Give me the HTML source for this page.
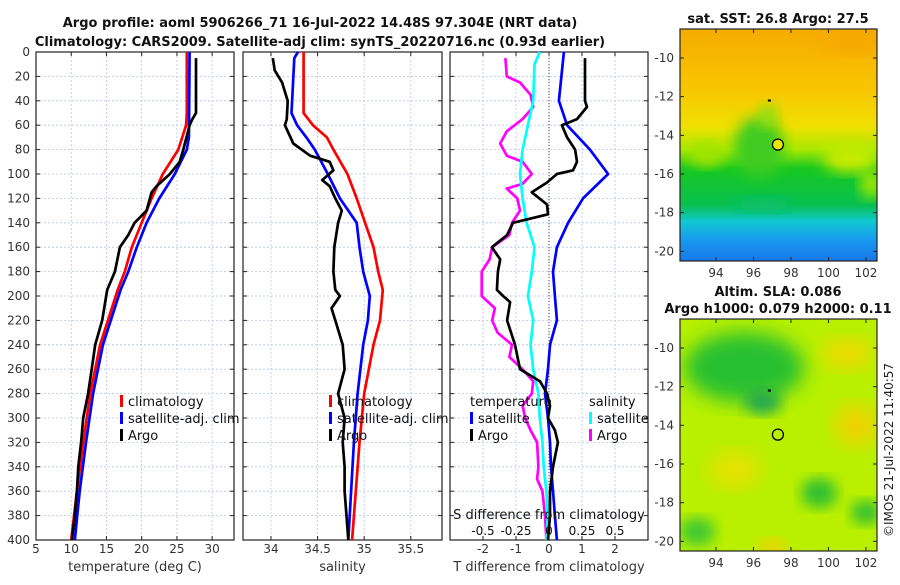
<!DOCTYPE html>
<html><head><meta charset="utf-8">
<style>
body{margin:0;background:#fff;width:900px;height:580px;overflow:hidden;font-family:"Liberation Sans","DejaVu Sans",sans-serif}
svg text{font-family:"DejaVu Sans","Liberation Sans",sans-serif}
</style></head>
<body>
<svg id="chart" width="900" height="580" xmlns="http://www.w3.org/2000/svg">
<defs>
<filter id="blur1" x="-20%" y="-20%" width="140%" height="140%"><feGaussianBlur stdDeviation="7"/></filter>
<filter id="blur2" x="-20%" y="-20%" width="140%" height="140%"><feGaussianBlur stdDeviation="10"/></filter>
<linearGradient id="sstgrad" x1="0" y1="0" x2="0" y2="1">
<stop offset="0" stop-color="#f6ac00"/><stop offset="0.25" stop-color="#f8c400"/><stop offset="0.42" stop-color="#f0e000"/>
<stop offset="0.52" stop-color="#a8e800"/><stop offset="0.6" stop-color="#18c820"/><stop offset="0.76" stop-color="#08c050"/>
<stop offset="0.83" stop-color="#10c8d0"/><stop offset="0.91" stop-color="#1898f0"/><stop offset="1" stop-color="#1878e8"/>
</linearGradient>
<clipPath id="clipA"><rect x="680" y="29" width="197" height="232"/></clipPath>
<clipPath id="clipB"><rect x="680" y="319" width="197" height="232"/></clipPath>
</defs>
<g font-weight="bold" font-size="13" text-anchor="middle" fill="#111">
<text x="320" y="27">Argo profile: aoml 5906266_71 16-Jul-2022 14.48S 97.304E (NRT data)</text>
<text x="320" y="46">Climatology: CARS2009. Satellite-adj clim: synTS_20220716.nc (0.93d earlier)</text>
</g>
<g id="panels"></g>
<g id="maps"></g>
<text transform="translate(893,450) rotate(-90)" font-size="12" text-anchor="middle" fill="#222">©IMOS 21-Jul-2022 11:40:57</text>
</svg>
<script>
// ---- data ----
const depthTicks=[0,20,40,60,80,100,120,140,160,180,200,220,240,260,280,300,320,340,360,380,400];
const tempTicks=[5,10,15,20,25,30];
const salTicks=[34,34.5,35,35.5];
const tdiffTicks=[-2,-1,0,1,2];
const sdiffTicks=[-0.5,-0.25,0,0.25,0.5];
const sdiffTickLabels=["-0.5","-0.25","0","0.25","0.5"];
const latTicks=[-10,-12,-14,-16,-18,-20];
const lonTicks=[94,96,98,100,102];

const tClimDepth=[0,50,60,80,100,120,140,160,180,195,240,280,320,360,400];
const tClim=[26.4,26.4,26.3,25.2,23.0,21.4,20.0,18.6,17.6,16.6,14.1,12.7,11.7,10.8,10.0];
const tSatDepth=[0,70,80,100,120,140,160,180,195,240,280,320,360,400];
const tSat=[26.8,26.7,26.4,24.7,22.5,20.7,19.3,18.1,17.0,14.5,13.1,12.1,11.2,10.5];
const tArgoDepth=[5,50,55,60,80,90,100,110,115,130,140,150,160,180,195,220,240,260,280,300,320,340,360,380,400];
const tArgo=[27.7,27.7,27.2,26.8,25.9,25.4,24.0,22.1,21.4,20.7,19.0,18.1,16.9,16.2,15.1,14.4,13.4,12.9,12.4,11.7,11.4,11.0,10.8,10.5,10.1];

const sClimDepth=[0,50,60,70,80,100,120,140,160,180,195,220,240,280,320,360,400];
const sClim=[34.35,34.35,34.45,34.6,34.67,34.82,34.92,35.01,35.1,35.15,35.2,35.17,35.1,35.0,34.95,34.91,34.87];
const sSatDepth=[0,5,50,60,70,80,100,120,140,160,180,200,220,240,280,320,360,400];
const sSat=[34.29,34.25,34.22,34.28,34.38,34.47,34.61,34.74,34.92,34.95,34.99,35.06,35.04,34.99,34.93,34.89,34.86,34.83];
const sArgoDepth=[5,15,25,40,55,60,75,85,90,97,105,110,120,130,140,160,180,195,200,210,220,240,260,280,300,320,340,360,380,400];
const sArgo=[34.02,34.04,34.12,34.18,34.17,34.15,34.24,34.42,34.63,34.67,34.55,34.63,34.69,34.76,34.72,34.68,34.67,34.69,34.74,34.65,34.69,34.77,34.79,34.72,34.79,34.77,34.79,34.79,34.81,34.83];

const dTSatDepth=[0,40,60,80,100,120,140,160,180,200,220,240,260,280,300,320,340,360,380,400];
const dTSat=[0.45,0.3,0.55,1.24,1.79,1.03,0.58,0.24,0.12,0.18,0.24,0.03,-0.03,-0.12,-0.03,0.03,0.06,0.12,0.18,0.24];
const dTArgoDepth=[5,40,45,55,60,70,80,90,97,100,107,115,125,133,140,150,160,170,180,195,200,205,220,240,260,270,280,290,300,310,320,340,360,380,400];
const dTArgo=[1.09,1.09,1.15,0.85,0.39,0.55,0.79,0.85,0.73,0.24,-0.06,-0.52,-0.06,-0.03,-1.09,-1.27,-1.73,-1.48,-1.55,-1.58,-1.39,-1.18,-1.27,-1.03,-0.88,-0.27,-0.06,0.03,-0.03,0.18,0.27,0.12,0.03,0.03,-0.03];
const dSSatDepth=[0,10,40,60,80,100,120,140,160,180,200,220,240,260,280,300,320,340,360,380,400];
const dSSat=[-0.07,-0.11,-0.12,-0.16,-0.2,-0.22,-0.2,-0.17,-0.11,-0.13,-0.16,-0.12,-0.14,-0.12,-0.08,-0.07,-0.05,-0.04,-0.02,-0.01,-0.02];
const dSArgoDepth=[5,20,25,35,45,55,65,75,85,90,100,108,112,120,130,140,150,160,170,180,195,200,210,220,230,240,250,260,270,280,290,300,310,320,340,350,360,380,400];
const dSArgo=[-0.33,-0.32,-0.22,-0.14,-0.12,-0.2,-0.32,-0.37,-0.32,-0.2,-0.13,-0.2,-0.32,-0.24,-0.22,-0.28,-0.3,-0.43,-0.45,-0.51,-0.51,-0.51,-0.41,-0.43,-0.39,-0.28,-0.3,-0.2,-0.12,-0.13,-0.2,-0.18,-0.14,-0.09,-0.08,-0.09,-0.05,-0.03,-0.02];

const argoLon=97.304, argoLat=-14.48;

// ---- drawing ----
const NS="http://www.w3.org/2000/svg";
function mk(tag,attrs,parent,txt){const e=document.createElementNS(NS,tag);for(const k in attrs)e.setAttribute(k,attrs[k]);if(txt!==undefined)e.textContent=txt;parent.appendChild(e);return e;}
const Y0=52,Y1=540;
const yScale=d=>Y0+(d/400)*(Y1-Y0);
const panels=document.getElementById('panels');

function panel(name,x0,x1,vmin,vmax,ticks,labels,xlabel){
  const g=mk('g',{},panels);
  
  
  const xs=v=>x0+(v-vmin)/(vmax-vmin)*(x1-x0);
  const grid=mk('g',{},g);
  
  
  depthTicks.forEach(d=>{mk('line',{x1:x0,x2:x1,y1:yScale(d),y2:yScale(d),stroke:'#b8c4e8','stroke-width':0.8,'stroke-dasharray':'2,2'},grid);
    mk('line',{x1:x0,x2:x0+4,y1:yScale(d),y2:yScale(d),stroke:'#222'},grid);mk('line',{x1:x1-4,x2:x1,y1:yScale(d),y2:yScale(d),stroke:'#222'},grid);});
  ticks.forEach((t,i)=>{const x=xs(t);mk('line',{x1:x,x2:x,y1:Y0,y2:Y1,stroke:'#b8c4e8','stroke-width':0.8,'stroke-dasharray':'2,2'},grid);
    mk('line',{x1:x,x2:x,y1:Y1,y2:Y1-4,stroke:'#222'},grid);mk('line',{x1:x,x2:x,y1:Y0,y2:Y0+4,stroke:'#222'},grid);
    const tl=mk('text',{x:x,y:553,'font-size':12,'text-anchor':'middle',fill:'#333'},g,labels[i]);
    
    });
  const xl=mk('text',{x:(x0+x1)/2,y:571,'font-size':13,'text-anchor':'middle',fill:'#333'},g,xlabel);
  
  
  mk('rect',{x:x0,y:Y0,width:x1-x0,height:Y1-Y0,fill:'none',stroke:'#222','stroke-width':1.2},g);
  return {g,xs};
}
function line(p,name,vals,depths,color,scale){
  const pts=vals.map((v,i)=>p.xs(v*(scale||1)).toFixed(1)+','+yScale(depths[i]).toFixed(1)).join(' ');
  const l=mk('polyline',{points:pts,fill:'none',stroke:color,'stroke-width':2.7,'stroke-linejoin':'round'},p.g);
  
  
}
function legend(p,items,x,y,name){
  const g=mk('g',{},p.g);
  
  
  items.forEach((it,i)=>{const yy=y+i*17;
    if(it[1])mk('rect',{x:x,y:yy-10,width:3,height:12,fill:it[1]},g);
    mk('text',{x:x+(it[1]?8:0),y:yy+1,'font-size':13,fill:'#111'},g,it[0]);});
}

// panel 1
const p1=panel('temperature-panel',36,234,5,33.1,tempTicks,tempTicks.map(String),'temperature (deg C)');
depthTicks.forEach(d=>{const t=mk('text',{x:30,y:yScale(d)+4,'font-size':12,'text-anchor':'end',fill:'#333'},p1.g,String(d));
  
  });
line(p1,'temp-climatology-line',tClim,tClimDepth,'#ff0000');
line(p1,'temp-satellite-line',tSat,tSatDepth,'#0000ff');
line(p1,'temp-argo-line',tArgo,tArgoDepth,'#000000');
legend(p1,[['climatology','#ff0000'],['satellite-adj. clim','#0000ff'],['Argo','#000']],120,405,'temperature-legend');

// panel 2
const p2=panel('salinity-panel',243,442,33.7,35.835,salTicks,salTicks.map(String),'salinity');
line(p2,'sal-climatology-line',sClim,sClimDepth,'#ff0000');
line(p2,'sal-satellite-line',sSat,sSatDepth,'#0000ff');
line(p2,'sal-argo-line',sArgo,sArgoDepth,'#000000');
legend(p2,[['climatology','#ff0000'],['satellite-adj. clim','#0000ff'],['Argo','#000']],329,405,'salinity-legend');

// panel 3
const p3=panel('difference-panel',450,648,-3,3,tdiffTicks,tdiffTicks.map(String),'T difference from climatology');
mk('line',{x1:p3.xs(0),x2:p3.xs(0),y1:Y0,y2:Y1,stroke:'#444','stroke-width':1,'stroke-dasharray':'1,2'},p3.g);
line(p3,'sdiff-argo-line',dSArgo,dSArgoDepth,'#ff00ff',4);
line(p3,'sdiff-satellite-line',dSSat,dSSatDepth,'#00ffff',4);
line(p3,'tdiff-satellite-line',dTSat,dTSatDepth,'#0000ff');
line(p3,'tdiff-argo-line',dTArgo,dTArgoDepth,'#000000');
legend(p3,[['temperature',null],['satellite','#0000ff'],['Argo','#000']],470,405,'tdiff-legend');
legend(p3,[['salinity',null],['satellite','#00ffff'],['Argo','#ff00ff']],589,405,'sdiff-legend');
const st=mk('text',{x:549,y:519,'font-size':13,'text-anchor':'middle',fill:'#111'},p3.g,'S difference from climatology');


sdiffTicks.forEach((s,i)=>{const t=mk('text',{x:p3.xs(s*4),y:535,'font-size':12,'text-anchor':'middle',fill:'#111'},p3.g,sdiffTickLabels[i]);
  
  });

// maps
const maps=document.getElementById('maps');
function map(name,y0,title1,title2,kind,clip){
  const x0=680,x1=877,y1=y0+232;
  const lx=v=>x0+(v-92.08)/(102.59-92.08)*(x1-x0);
  const ly=v=>y0+(-8.5-v)/12*(y1-y0);
  const g=mk('g',{},maps);
  
  
  const body=mk('g',{'clip-path':'url(#'+clip+')'},g);
  if(kind==='sst'){
    mk('rect',{x:x0,y:y0,width:197,height:232,fill:'url(#sstgrad)'},body);
    mk('ellipse',{cx:lx(101.5),cy:ly(-9),rx:40,ry:14,fill:'#f6a800',filter:'url(#blur2)'},body);
    mk('ellipse',{cx:lx(96.3),cy:ly(-14.6),rx:25,ry:30,fill:'#40cc20',filter:'url(#blur1)'},body);
    mk('ellipse',{cx:lx(96.8),cy:ly(-13),rx:10,ry:12,fill:'#90e010',filter:'url(#blur1)'},body);
    mk('ellipse',{cx:lx(93.5),cy:ly(-15),rx:18,ry:12,fill:'#a0e400',filter:'url(#blur1)'},body);
    mk('ellipse',{cx:lx(101.2),cy:ly(-15.2),rx:28,ry:14,fill:'#c8ec00',filter:'url(#blur1)'},body);
    mk('ellipse',{cx:lx(102.3),cy:ly(-16.5),rx:12,ry:14,fill:'#a0e800',filter:'url(#blur1)'},body);
    mk('ellipse',{cx:lx(96.5),cy:ly(-17.6),rx:30,ry:7,fill:'#10c070',filter:'url(#blur1)'},body);
  } else {
    mk('rect',{x:x0,y:y0,width:197,height:232,fill:'#b8f000'},body);
    mk('ellipse',{cx:lx(95.5),cy:ly(-11),rx:60,ry:35,fill:'#28c030',filter:'url(#blur2)'},body);
    mk('ellipse',{cx:lx(96.5),cy:ly(-12.8),rx:18,ry:12,fill:'#20a850',filter:'url(#blur1)'},body);
    mk('ellipse',{cx:lx(101),cy:ly(-10.3),rx:25,ry:15,fill:'#f0d800',filter:'url(#blur2)'},body);
    mk('ellipse',{cx:lx(101.5),cy:ly(-14),rx:22,ry:20,fill:'#f0d000',filter:'url(#blur2)'},body);
    mk('ellipse',{cx:lx(95),cy:ly(-16.3),rx:25,ry:18,fill:'#e8e000',filter:'url(#blur2)'},body);
    mk('ellipse',{cx:lx(99.5),cy:ly(-17.5),rx:18,ry:15,fill:'#30c030',filter:'url(#blur1)'},body);
    mk('ellipse',{cx:lx(102),cy:ly(-18.5),rx:15,ry:12,fill:'#30c030',filter:'url(#blur1)'},body);
    mk('ellipse',{cx:lx(93),cy:ly(-19.5),rx:18,ry:14,fill:'#40c830',filter:'url(#blur1)'},body);
    mk('ellipse',{cx:lx(97),cy:ly(-20.3),rx:15,ry:8,fill:'#f0d000',filter:'url(#blur1)'},body);
  }
  mk('rect',{x:lx(96.85)-1.5,y:ly(-12.2)-1,width:3,height:2,fill:'#000'},body);
  const c=mk('circle',{cx:lx(argoLon),cy:ly(argoLat),r:5.5,fill:kind==='sst'?'#e8e800':'none',stroke:'#000','stroke-width':1.3},g);
  
  
  mk('rect',{x:x0,y:y0,width:197,height:232,fill:'none',stroke:'#222','stroke-width':1.2},g);
  latTicks.forEach(t=>{const y=ly(t);mk('line',{x1:x0,x2:x0+4,y1:y,y2:y,stroke:'#222'},g);mk('line',{x1:x1-4,x2:x1,y1:y,y2:y,stroke:'#222'},g);
    const tl=mk('text',{x:674,y:y+4,'font-size':12,'text-anchor':'end',fill:'#333'},g,String(t));
    
    });
  lonTicks.forEach(t=>{const x=lx(t);mk('line',{x1:x,x2:x,y1:y1,y2:y1-4,stroke:'#222'},g);mk('line',{x1:x,x2:x,y1:y0,y2:y0+4,stroke:'#222'},g);
    const tl=mk('text',{x:x,y:y1+16,'font-size':12,'text-anchor':'middle',fill:'#333'},g,String(t));
    
    });
  const tt=mk('g',{'font-size':13,'font-weight':'bold','text-anchor':'middle',fill:'#111'},g);
  
  
  if(title2){mk('text',{x:778,y:296},tt,title1);mk('text',{x:778,y:313},tt,title2);}
  else mk('text',{x:778,y:y0-6},tt,title1);
}
map('sst-map',29,'sat. SST: 26.8 Argo: 27.5',null,'sst','clipA');
map('sla-map',319,'Altim. SLA: 0.086','Argo h1000: 0.079 h2000: 0.11','sla','clipB');
</script>
</body></html>
